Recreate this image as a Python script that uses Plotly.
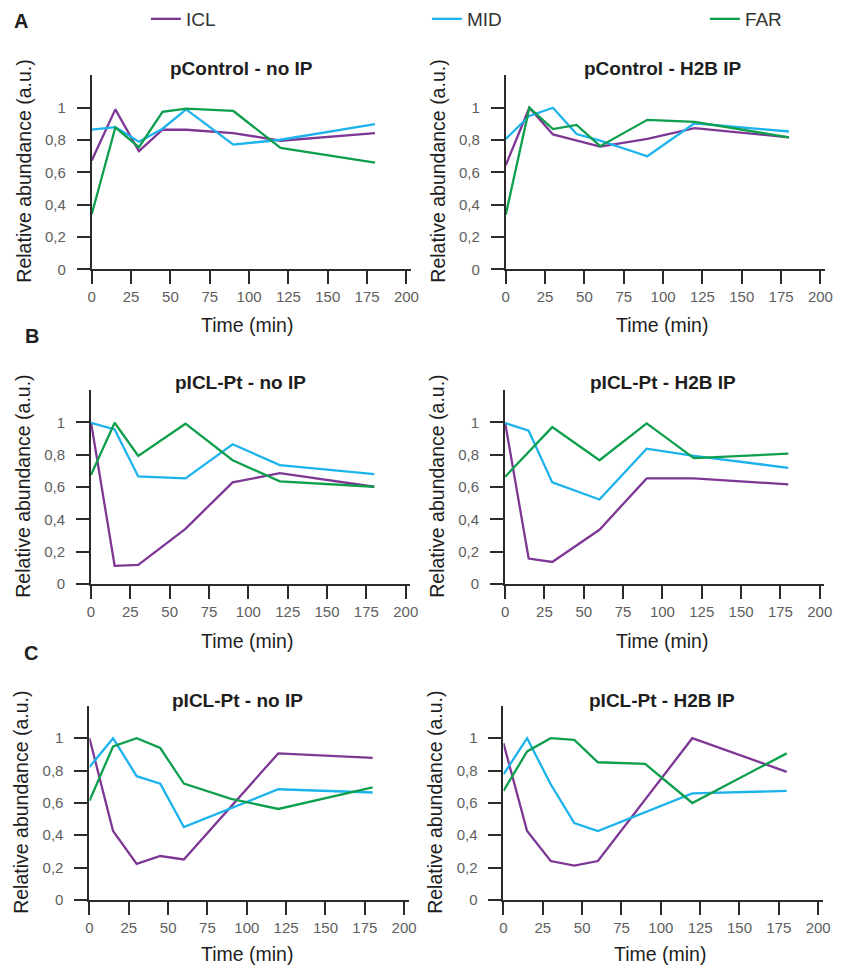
import plotly.graph_objects as go

# ---- data -----------------------------------------------------------------
series_names = ["ICL", "MID", "FAR"]
series_colors = ["#7E3794", "#1CB3EC", "#0E9F4C"]

time_a = [0, 15, 30, 45, 60, 90, 120, 180]
a_noip_icl = [0.674, 0.99, 0.731, 0.864, 0.864, 0.843, 0.796, 0.843]
a_noip_mid = [0.864, 0.88, 0.79, 0.87, 0.99, 0.772, 0.802, 0.898]
a_noip_far = [0.342, 0.878, 0.756, 0.974, 0.994, 0.98, 0.752, 0.66]
a_h2b_icl = [0.644, 1.0, 0.835, 0.796, 0.76, 0.807, 0.874, 0.817]
a_h2b_mid = [0.807, 0.949, 1.0, 0.837, 0.796, 0.70, 0.904, 0.853]
a_h2b_far = [0.338, 1.0, 0.868, 0.894, 0.762, 0.925, 0.912, 0.817]

time_b = [0, 15, 30, 60, 90, 120, 180]
b_noip_icl = [1.0, 0.113, 0.119, 0.342, 0.629, 0.686, 0.602]
b_noip_mid = [0.998, 0.957, 0.666, 0.654, 0.865, 0.736, 0.68]
b_noip_far = [0.676, 0.998, 0.793, 0.992, 0.766, 0.635, 0.602]
b_h2b_icl = [1.0, 0.158, 0.137, 0.336, 0.654, 0.654, 0.617]
b_h2b_mid = [0.996, 0.949, 0.629, 0.523, 0.838, 0.793, 0.719]
b_h2b_far = [0.664, None, 0.971, 0.766, 0.994, 0.779, 0.807]

time_c = [0, 15, 30, 45, 60, 90, 120, 180]
c_noip_icl = [1.0, 0.426, 0.222, 0.271, 0.25, None, 0.906, 0.878]
c_noip_mid = [0.821, 1.0, 0.765, 0.719, 0.45, None, 0.684, 0.664]
c_noip_far = [0.613, 0.949, 1.0, 0.939, 0.719, 0.625, 0.562, 0.695]
c_h2b_icl = [0.969, 0.426, 0.24, 0.212, 0.24, None, 1.0, 0.792]
c_h2b_mid = [0.776, 1.0, 0.715, 0.475, 0.426, None, 0.658, 0.674]
c_h2b_far = [0.674, 0.918, 1.0, 0.99, 0.851, 0.841, 0.599, 0.906]

panel_titles = ["pControl - no IP", "pControl - H2B IP",
                "pICL-Pt - no IP", "pICL-Pt - H2B IP",
                "pICL-Pt - no IP", "pICL-Pt - H2B IP"]
panel_letters = ["A", "B", "C"]

x_ticks = [0, 25, 50, 75, 100, 125, 150, 175, 200]
y_ticks = [0, 0.2, 0.4, 0.6, 0.8, 1]
y_ticktext = ["0", "0,2", "0,4", "0,6", "0,8", "1"]

x_title = "Time (min)"
y_title = "Relative abundance (a.u.)"

panels = [
    (time_a, [a_noip_icl, a_noip_mid, a_noip_far]),
    (time_a, [a_h2b_icl, a_h2b_mid, a_h2b_far]),
    (time_b, [b_noip_icl, b_noip_mid, b_noip_far]),
    (time_b, [b_h2b_icl, b_h2b_mid, b_h2b_far]),
    (time_c, [c_noip_icl, c_noip_mid, c_noip_far]),
    (time_c, [c_h2b_icl, c_h2b_mid, c_h2b_far]),
]

# ---- layout geometry (pixels) --------------------------------------------
W, H = 844, 975
FONT = "Liberation Sans, Arial, Helvetica, sans-serif"
AX = "#2b2b2b"
TICKLBL = "#5e5e5e"


def px(x):
    return x / W


def py(y):
    return 1 - y / H


# left edge of each plot area and bottom of each row
col_left = [[89, 509], [88.3, 508.3], [86.7, 506.7]]
row_bottom = [268.7, 587.3, 907]
plot_w, plot_h = 324, 196.4

# one legend box per series, spread across the top
legend_ids = ["legend", "legend2", "legend3"]
legend_left = [144, 429, 711]

fig = go.Figure()
layout_axes = {}
annotations = []

for i, (times, vals) in enumerate(panels):
    r, c = divmod(i, 2)
    n = "" if i == 0 else str(i + 1)
    left = col_left[r][c]
    bottom = row_bottom[r]
    for s, (name, color) in enumerate(zip(series_names, series_colors)):
        fig.add_trace(go.Scatter(
            x=times, y=vals[s], mode="lines", name=name,
            line=dict(color=color, width=2.3),
            connectgaps=True, legendgroup=name, showlegend=(i == 0),
            legend=legend_ids[s],
            xaxis="x" + n, yaxis="y" + n, hoverinfo="skip",
        ))
    layout_axes["xaxis" + n] = dict(
        domain=[px(left), px(left + plot_w)], anchor="y" + n,
        range=[0, 203], tickvals=x_ticks, ticks="outside", ticklen=13,
        tickwidth=2, tickcolor=AX, showline=True, linecolor=AX, linewidth=2,
        showgrid=False, zeroline=False,
        tickfont=dict(family=FONT, size=15, color=TICKLBL),
    )
    layout_axes["yaxis" + n] = dict(
        domain=[py(bottom), py(bottom - plot_h)], anchor="x" + n,
        range=[0, 1.2], tickvals=y_ticks, ticktext=y_ticktext,
        ticks="outside", ticklen=13, tickwidth=2, tickcolor=AX,
        showline=True, linecolor=AX, linewidth=2, showgrid=False,
        zeroline=False, ticklabelstandoff=8,
        tickfont=dict(family=FONT, size=15, color=TICKLBL),
    )

# panel titles
title_pos = [(241, 65), (669, 65), (240, 383), (669, 383), (237, 705), (667, 705)]
for t, (x, y) in zip(panel_titles, title_pos):
    annotations.append(dict(
        text="<b>%s</b>" % t, x=px(x), y=py(y), xref="paper", yref="paper",
        xanchor="center", yanchor="middle", showarrow=False,
        font=dict(family=FONT, size=19, color="#1e1e1e"),
    ))

# axis titles
xt_pos = [(247, 325), (667, 325), (247, 645), (667, 645), (246, 962), (665, 962)]
for x, y in xt_pos:
    annotations.append(dict(
        text=x_title, x=px(x), y=py(y), xref="paper", yref="paper",
        xanchor="center", yanchor="middle", showarrow=False,
        font=dict(family=FONT, size=19.5, color="#1e1e1e"),
    ))
yt_pos = [(20, 169), (440, 169), (19, 488), (439, 488), (17, 808), (437, 808)]
for x, y in yt_pos:
    annotations.append(dict(
        text=y_title, x=px(x), y=py(y), xref="paper", yref="paper",
        xanchor="center", yanchor="middle", showarrow=False, textangle=-90,
        font=dict(family=FONT, size=19.5, color="#1e1e1e"),
    ))

# row letters
letter_pos = [(17, 17), (28, 336), (27, 657)]
for t, (x, y) in zip(panel_letters, letter_pos):
    annotations.append(dict(
        text="<b>%s</b>" % t, x=px(x), y=py(y), xref="paper", yref="paper",
        xanchor="center", yanchor="middle", showarrow=False,
        font=dict(family=FONT, size=20, color="#1e1e1e"),
    ))

legends = {}
for lid, lx in zip(legend_ids, legend_left):
    legends[lid] = dict(
        orientation="h", x=px(lx), y=py(15), xanchor="left", yanchor="middle",
        itemwidth=30, font=dict(family=FONT, size=19, color="#333333"),
        bgcolor="rgba(0,0,0,0)",
    )

fig.update_layout(
    width=W, height=H, margin=dict(l=0, r=0, t=0, b=0),
    paper_bgcolor="white", plot_bgcolor="white",
    showlegend=True,
    annotations=annotations,
    **legends,
    **layout_axes,
)

fig.write_html("out.html")
